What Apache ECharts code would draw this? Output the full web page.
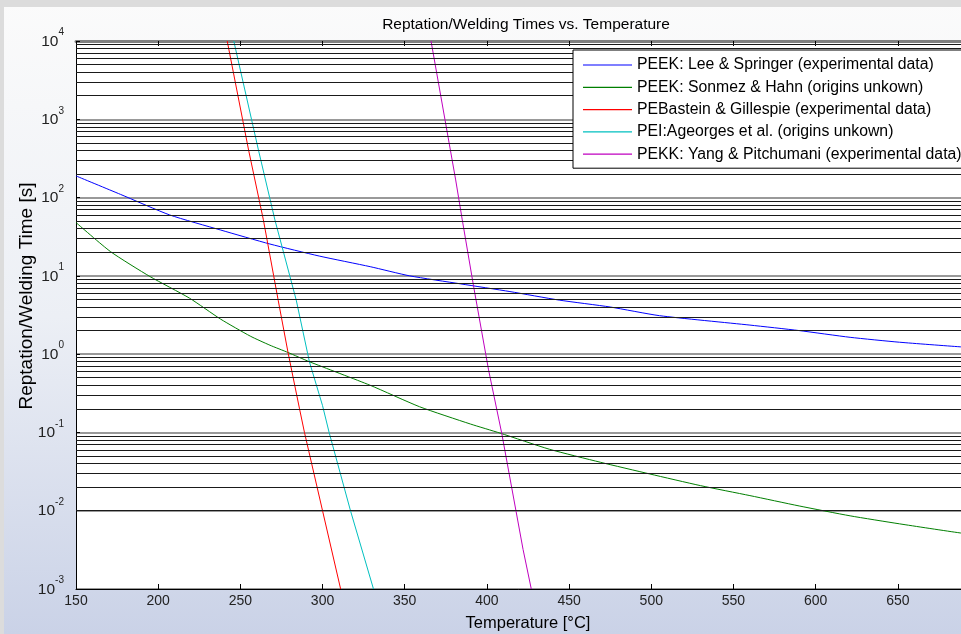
<!DOCTYPE html>
<html>
<head>
<meta charset="utf-8">
<script src="https://cdn.jsdelivr.net/npm/echarts@6/dist/echarts.min.js"></script>
<style>
  html, body { margin: 0; padding: 0; }
  #chart { width: 961px; height: 634px; }
</style>
</head>
<body>
<div id="chart"></div>
<script>
// temperatures [°C] and times [s]
const leeSpringerT = [150, 177, 207, 238, 268, 298, 329, 353, 384, 414, 444, 475, 505, 560, 590, 621, 651, 688, 700];
const leeSpringerTime = [189, 110, 60, 38.5, 25.5, 17.9, 13.1, 10.0, 7.9, 6.3, 4.9, 4.0, 3.1, 2.35, 2.0, 1.64, 1.42, 1.24, 1.2];

const sonmezHahnT = [150, 171, 195, 219, 238, 256, 268, 279, 292, 329, 359, 390, 408, 438, 469, 499, 530, 560, 590, 621, 651, 688, 700];
const sonmezHahnTime = [48, 20.4, 9.8, 5.2, 2.8, 1.7, 1.3, 1.05, 0.80, 0.40, 0.213, 0.128, 0.098, 0.061, 0.0416, 0.0295, 0.0209, 0.0156, 0.0115, 0.0086, 0.0068, 0.0052, 0.0049];

const basteinT = [242, 255, 264, 273, 279, 286, 289, 300, 311];
const basteinTime = [10000, 405, 52, 4.9, 1.05, 0.2, 0.1, 0.01, 0.001];

const ageorgesT = [246, 261, 271, 284, 292, 300, 304, 317, 331];
const ageorgesTime = [10000, 405, 52, 4.9, 0.80, 0.22, 0.1, 0.01, 0.001];

const yangT = [366, 381, 385, 392, 401, 409, 422, 427];
const yangTime = [10000, 168, 52, 7.15, 0.63, 0.098, 0.0032, 0.001];

const seriesNames = [
  'PEEK: Lee & Springer (experimental data)',
  'PEEK: Sonmez & Hahn (origins unkown)',
  'PEBastein & Gillespie (experimental data)',
  'PEI:Ageorges et al. (origins unkown)',
  'PEKK: Yang & Pitchumani (experimental data)'
];
const seriesColors = ['#0000ff', '#007f00', '#ff0000', '#00bfbf', '#bf00bf'];
const smoothing = [0.2, 0.2, false, false, false];

// log grid: 2..9 within each decade
const minorGrid = [];
for (let k = -3; k < 4; k++) {
  for (let m = 2; m <= 9; m++) minorGrid.push(m * Math.pow(10, k));
}

const zip = (xs, ys) => xs.map((x, i) => [x, ys[i]]);
const curves = [
  zip(leeSpringerT, leeSpringerTime),
  zip(sonmezHahnT, sonmezHahnTime),
  zip(basteinT, basteinTime),
  zip(ageorgesT, ageorgesTime),
  zip(yangT, yangTime)
];

const chart = echarts.init(document.getElementById('chart'));

const font = 'Liberation Sans, Arial, sans-serif';

const option = {
  animation: false,
  backgroundColor: {
    type: 'linear', x: 0, y: 0, x2: 0, y2: 1,
    colorStops: [
      { offset: 0, color: '#fbfbfb' },
      { offset: 0.5, color: '#eceff5' },
      { offset: 1, color: '#cad2e7' }
    ]
  },
  textStyle: { fontFamily: font },
  graphic: [
    { type: 'rect', shape: { x: 0, y: 0, width: 961, height: 7 }, style: { fill: '#dcdcdc' }, silent: true },
    { type: 'rect', shape: { x: 0, y: 0, width: 4, height: 634 }, style: { fill: '#dcdcdc' }, silent: true }
  ],
  title: {
    text: 'Reptation/Welding Times vs. Temperature',
    left: 521,
    top: 12,
    textAlign: 'center',
    textStyle: { fontFamily: font, fontSize: 15.5, fontWeight: 'normal', color: '#000' }
  },
  legend: {
    orient: 'vertical',
    left: 573,
    top: 50,
    data: seriesNames.map((n, i) => ({ name: n, itemStyle: { color: seriesColors[i] } })),
    icon: 'path://M0,0h49v1.2H0z',
    itemWidth: 49,
    itemHeight: 14,
    itemGap: 6.3,
    padding: [7, 40, 6, 10],
    backgroundColor: '#ffffff',
    borderColor: '#000000',
    borderWidth: 1,
    z: 10,
    textStyle: { fontFamily: font, fontSize: 15.8, color: '#000' }
  },
  grid: {
    left: 76, right: -19, top: 41, bottom: 45,
    outerBoundsMode: 'none',
    containLabel: false,
    backgroundColor: '#ffffff', show: true, borderWidth: 0
  },
  xAxis: [
    {
      type: 'value', min: 150, max: 700, interval: 50,
      name: 'Temperature [°C]', nameLocation: 'middle', nameGap: 26,
      nameMoveOverlap: false,
      nameTextStyle: { fontFamily: font, fontSize: 16.5, color: '#000' },
      axisLine: { lineStyle: { color: '#000', width: 1 } },
      axisTick: { inside: true, length: 5, lineStyle: { color: '#000' } },
      axisLabel: { fontFamily: font, fontSize: 14, color: '#222', margin: 5 },
      splitLine: { show: false }
    },
    {
      type: 'value', min: 150, max: 700, interval: 50, position: 'top',
      axisLine: { lineStyle: { color: '#808080', width: 3 } },
      axisTick: { inside: true, length: 5, lineStyle: { color: '#000' } },
      axisLabel: { show: false },
      splitLine: { show: false }
    }
  ],
  yAxis: {
    type: 'log', logBase: 10, min: 0.001, max: 10000,
    name: 'Reptation/Welding Time [s]', nameLocation: 'middle', nameGap: 40,
    nameMoveOverlap: false,
    nameTextStyle: { fontFamily: font, fontSize: 19, color: '#000', padding: [0, 0, 0, 38] },
    axisLine: { show: true, lineStyle: { color: '#000', width: 1 } },
    axisTick: { show: true, inside: true, length: 4, lineStyle: { color: '#000' } },
    axisLabel: {
      margin: 12,
      padding: [1, 0, 0, 0],
      formatter: v => '{b|10}{s|' + Math.round(Math.log10(v)) + '}',
      rich: {
        b: { fontFamily: font, fontSize: 15.5, lineHeight: 16, color: '#222', verticalAlign: 'bottom' },
        s: { fontFamily: font, fontSize: 10, lineHeight: 10, color: '#222', verticalAlign: 'bottom', padding: [0, 0, 12, 0] }
      }
    },
    splitLine: { show: true, lineStyle: { color: '#777', width: 1.5 } }
  },
  series: [
    {
      type: 'line', name: 'grid', data: [], silent: true,
      markLine: {
        silent: true, symbol: 'none', animation: false,
        label: { show: false },
        lineStyle: { color: '#1a1a1a', width: 1, type: 'solid' },
        data: minorGrid.map(v => ({ yAxis: v }))
      }
    }
  ].concat(curves.map((d, i) => ({
    type: 'line',
    name: seriesNames[i],
    data: d,
    showSymbol: false,
    symbol: 'none',
    smooth: smoothing[i],
    clip: true,
    color: seriesColors[i],
    lineStyle: { color: seriesColors[i], width: 1 },
    z: 3
  })))
};

chart.setOption(option);
</script>
</body>
</html>
